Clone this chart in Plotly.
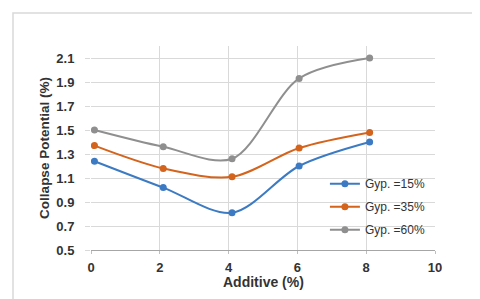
import plotly.graph_objects as go

additive = [0.1, 2.1, 4.1, 6.05, 8.1]
gyp15 = [1.24, 1.02, 0.81, 1.20, 1.40]
gyp35 = [1.37, 1.18, 1.11, 1.35, 1.48]
gyp60 = [1.50, 1.36, 1.26, 1.93, 2.10]
names = ["Gyp. =15%", "Gyp. =35%", "Gyp. =60%"]
colors = ["#3C7BC3", "#D4631C", "#8F8F8F"]
xticks = [0, 2, 4, 6, 8, 10]
yticks = [0.5, 0.7, 0.9, 1.1, 1.3, 1.5, 1.7, 1.9, 2.1]
yticklabels = ["0.5", "0.7", "0.9", "1.1", "1.3", "1.5", "1.7", "1.9", "2.1"]

fig = go.Figure()
for i, (name, ys, c) in enumerate(zip(names, [gyp15, gyp35, gyp60], colors)):
    fig.add_trace(go.Scatter(x=additive, y=ys, name=name, mode="lines+markers",
                             legendgroup=f"g{i}",
                             line=dict(color=c, width=2, shape="spline", smoothing=0.9),
                             marker=dict(color=c, size=7)))

L, R, T, B = 83, 427, 38, 242
FONT = "Liberation Sans, Arial"
fig.update_layout(
    width=480, height=299,
    margin=dict(l=L, r=480 - R, t=T, b=299 - B),
    paper_bgcolor="white", plot_bgcolor="white",
    font=dict(family=FONT, size=12, color="#333333"),
    showlegend=True,
    legend=dict(x=0.68, y=0.396, xanchor="left", yanchor="top", bgcolor="rgba(0,0,0,0)",
                font=dict(size=12, color="#333333"), tracegroupgap=4, itemwidth=30),
    xaxis=dict(range=[0, 10], tickvals=xticks, showgrid=True, gridcolor="#D9D9D9",
               zeroline=False, showline=True, linecolor="#A6A6A6",
               ticks="outside", ticklen=3, tickcolor="#BFBFBF", ticklabelstandoff=2,
               tickfont=dict(size=13, family=FONT, color="#333333", weight="bold")),
    yaxis=dict(range=[0.5, 2.2], tickvals=yticks, ticktext=yticklabels,
               showgrid=True, gridcolor="#D9D9D9", zeroline=False, showline=False,
               ticks="outside", ticklen=5, tickcolor="#D9D9D9", ticklabelstandoff=8,
               tickfont=dict(size=13, family=FONT, color="#333333", weight="bold"),
               title=dict(text="Collapse Potential (%)", font=dict(size=13.5, weight="bold"), standoff=3)),
)
W, H = R - L, B - T
fig.add_annotation(text="Additive (%)", xref="paper", yref="paper", x=0.5, y=(B - 274) / H,
                   xanchor="center", yanchor="middle", showarrow=False,
                   font=dict(size=14, family=FONT, color="#333333", weight="bold"))
fig.add_shape(type="rect", xref="paper", yref="paper",
              x0=(5 - L) / W, x1=(472 - L) / W, y0=(B - 292) / H, y1=(B - 5) / H,
              line=dict(color="#D9D9D9", width=1.5), layer="below")
fig.write_html("out.html")
